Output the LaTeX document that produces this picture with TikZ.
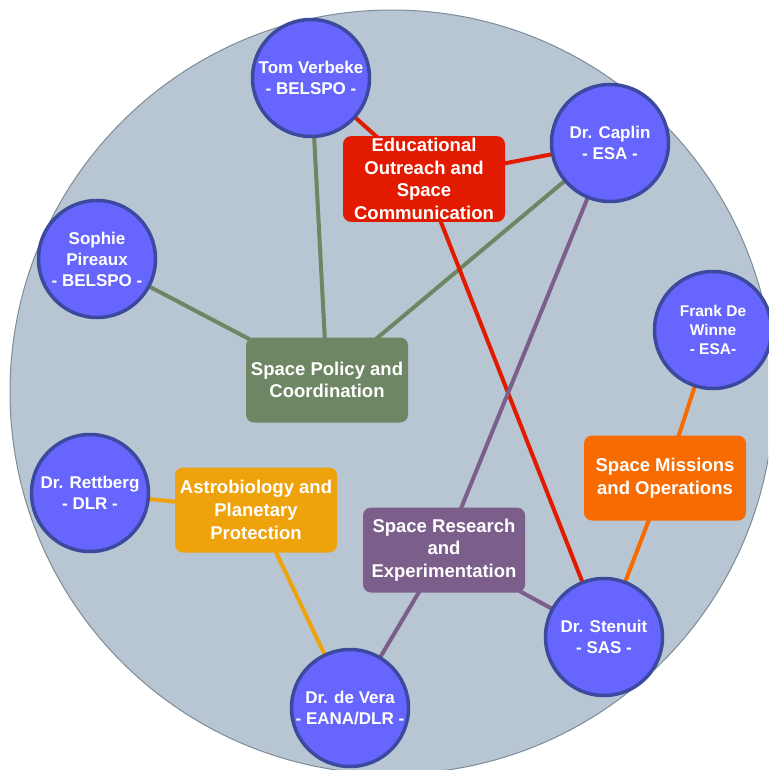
\documentclass[tikz,border=0pt]{standalone}
\usepackage{fontspec}
\setmainfont{Liberation Sans}
\pgfdeclarelayer{bglayer}
\pgfdeclarelayer{edgelayer}
\pgfsetlayers{bglayer,edgelayer,main}
\definecolor{bgc}{HTML}{B7C6D2}
\definecolor{bgline}{HTML}{7D8B97}
\definecolor{pfill}{HTML}{6666FF}
\definecolor{pline}{HTML}{3B4A9E}
\definecolor{cred}{HTML}{E21A00}
\definecolor{cgreen}{HTML}{6E8663}
\definecolor{cyel}{HTML}{EEA30C}
\definecolor{corange}{HTML}{F76B00}
\definecolor{cpurple}{HTML}{7B5E8A}
\begin{document}
\begin{tikzpicture}[x=1pt,y=-1pt,
  person/.style={circle, fill=pfill, draw=pline, line width=3.5pt, minimum size=117pt, inner sep=0pt,
    text=white, align=center, font=\bfseries\fontsize{17}{21}\selectfont},
  topic/.style={rectangle, rounded corners=8pt, minimum width=162pt, minimum height=85pt, inner sep=2pt,
    text=white, align=center, font=\bfseries\fontsize{18.5}{22.7}\selectfont},
  link/.style={line width=4pt}
]
\useasboundingbox (0,0) rectangle (768,770);
\begin{pgfonlayer}{bglayer}
\clip (0,0) rectangle (768,770);
\fill[bgc, draw=bgline, line width=1pt] (392,392) circle[radius=382];
\end{pgfonlayer}

% people
\node[person] (tom) at (311,78) {Tom Verbeke\\- BELSPO -};
\node[person] (caplin) at (610,143) {Dr. Caplin\\- ESA -};
\node[person] (sophie) at (97,259) {Sophie\\Pireaux\\- BELSPO -};
\node[person, font=\bfseries\fontsize{15.5}{19}\selectfont] (frank) at (713,330) {Frank De\\Winne\\- ESA-};
\node[person] (rettberg) at (90,493) {Dr. Rettberg\\- DLR -};
\node[person] (devera) at (350,708) {Dr. de Vera\\- EANA/DLR -};
\node[person] (stenuit) at (604,637) {Dr. Stenuit\\- SAS -};

% topics
\node[topic, fill=cred] (edu) at (424,179) {Educational\\Outreach and\\Space\\Communication};
\node[topic, fill=cgreen] (policy) at (327,380) {Space Policy and\\Coordination};
\node[topic, fill=cyel] (astro) at (256,510) {Astrobiology and\\Planetary\\Protection};
\node[topic, fill=cpurple] (research) at (444,550) {Space Research\\and\\Experimentation};
\node[topic, fill=corange] (missions) at (665,478) {Space Missions\\and Operations};

\begin{pgfonlayer}{edgelayer}
\draw[link, cgreen] (tom.center) -- (policy.center);
\draw[link, cgreen] (sophie.center) -- (policy.center);
\draw[link, cgreen] (caplin.center) -- (policy.center);
\draw[link, cred] (tom.center) -- (edu.center);
\draw[link, cred] (edu.center) -- (caplin.center);
\draw[link, cred] (edu.center) -- (stenuit.center);
\draw[link, cpurple] (caplin.center) -- (research.center);
\draw[link, cpurple] (research.center) -- (devera.center);
\draw[link, cpurple] (research.center) -- (stenuit.center);
\draw[link, cyel] (rettberg.center) -- (astro.center);
\draw[link, cyel] (astro.center) -- (devera.center);
\draw[link, corange] (frank.center) -- (missions.center);
\draw[link, corange] (missions.center) -- (stenuit.center);
\end{pgfonlayer}
\end{tikzpicture}
\end{document}
